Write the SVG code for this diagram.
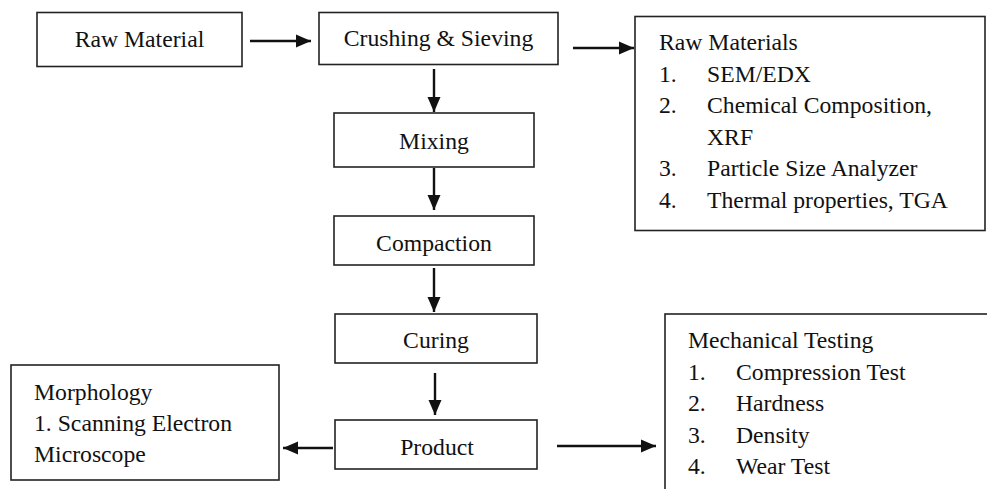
<svg xmlns="http://www.w3.org/2000/svg" width="987" height="489" viewBox="0 0 987 489">
<style>
.box{fill:#fff;stroke:#222;stroke-width:1.6}
text{font-family:"Liberation Serif","Times New Roman",serif;font-size:23.7px;fill:#111}
.c{text-anchor:middle}
.conn line{stroke:#111;stroke-width:2.4;marker-end:url(#ah)}
</style>
<defs>
<marker id="ah" markerUnits="userSpaceOnUse" markerWidth="16" markerHeight="14" refX="15" refY="7" orient="auto">
<path d="M0,0.5 L15,7 L0,13.5 z" fill="#111"/>
</marker>
</defs>
<rect width="987" height="489" fill="#fff"/>
<g id="raw-material"><rect class="box" x="37" y="12.5" width="205" height="54"/><text class="c" x="139.5" y="47">Raw Material</text></g>
<g id="crushing"><rect class="box" x="319" y="12.5" width="239" height="52"/><text class="c" x="438.5" y="46">Crushing &amp; Sieving</text></g>
<g id="raw-materials-tests"><rect class="box" x="635" y="16.5" width="350" height="214"/>
<text x="659" y="50">Raw Materials</text>
<text x="659" y="81.6">1.</text><text x="707" y="81.6">SEM/EDX</text>
<text x="659" y="113.2">2.</text><text x="707" y="113.2">Chemical Composition,</text>
<text x="707" y="144.8">XRF</text>
<text x="659" y="176.4">3.</text><text x="707" y="176.4">Particle Size Analyzer</text>
<text x="659" y="208">4.</text><text x="707" y="208">Thermal properties, TGA</text>
</g>
<g id="mixing"><rect class="box" x="334" y="113" width="200" height="54"/><text class="c" x="434" y="149">Mixing</text></g>
<g id="compaction"><rect class="box" x="334" y="216" width="200" height="49"/><text class="c" x="434" y="251">Compaction</text></g>
<g id="curing"><rect class="box" x="335" y="314" width="202" height="49"/><text class="c" x="436" y="348">Curing</text></g>
<g id="product"><rect class="box" x="335" y="420" width="202" height="49"/><text class="c" x="437" y="455">Product</text></g>
<g id="morphology"><rect class="box" x="11" y="365" width="268" height="115"/>
<text x="34" y="400">Morphology</text>
<text x="34" y="431">1. Scanning Electron</text>
<text x="34" y="462">Microscope</text>
</g>
<g id="mechanical"><rect class="box" x="665" y="314" width="330" height="190"/>
<text x="688" y="348">Mechanical Testing</text>
<text x="688" y="379.5">1.</text><text x="736" y="379.5">Compression Test</text>
<text x="688" y="411">2.</text><text x="736" y="411">Hardness</text>
<text x="688" y="442.5">3.</text><text x="736" y="442.5">Density</text>
<text x="688" y="474">4.</text><text x="736" y="474">Wear Test</text>
</g>
<g id="connectors" class="conn">
<line x1="250" y1="41" x2="311" y2="41"/>
<line x1="573" y1="48" x2="634" y2="48"/>
<line x1="434" y1="69" x2="434" y2="112"/>
<line x1="434" y1="168" x2="434" y2="210"/>
<line x1="434" y1="268" x2="434" y2="312"/>
<line x1="435" y1="373" x2="435" y2="415"/>
<line x1="333" y1="448" x2="283" y2="448"/>
<line x1="557" y1="446" x2="656" y2="446"/>
</g>
</svg>
